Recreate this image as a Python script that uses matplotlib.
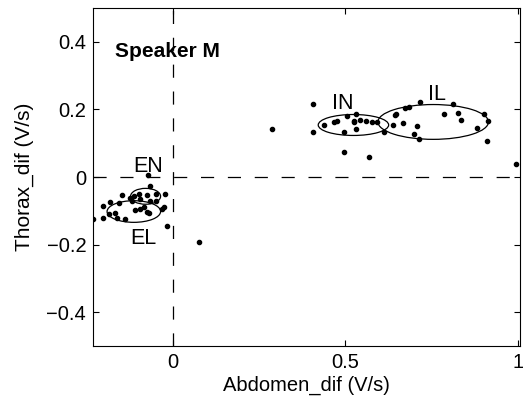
import numpy as np
import matplotlib
matplotlib.use('Agg')
import matplotlib.pyplot as plt
from matplotlib.patches import Ellipse

plt.rcParams['font.family'] = ['Liberation Sans', 'DejaVu Sans']

# expiration points (EN / EL cluster)
exp_x = [-0.229, -0.071, -0.064, -0.023, -0.049, -0.074, -0.098, -0.112, -0.122, -0.146,
         -0.093, -0.064, -0.047, -0.117, -0.156, -0.180, -0.200, -0.166, -0.185, -0.200,
         -0.161, -0.137, -0.108, -0.093, -0.074, -0.069, -0.083, -0.030, -0.025, -0.017, 0.077]
exp_y = [-0.124, 0.006, -0.026, -0.049, -0.051, -0.054, -0.049, -0.056, -0.061, -0.053,
         -0.066, -0.071, -0.071, -0.071, -0.076, -0.073, -0.085, -0.105, -0.110, -0.120,
         -0.120, -0.124, -0.098, -0.095, -0.102, -0.105, -0.090, -0.095, -0.090, -0.144, -0.193]

# inspiration points (IN / IL cluster)
insp_x = [0.288, 0.406, 0.406, 0.440, 0.467, 0.477, 0.505, 0.532, 0.525, 0.525, 0.544, 0.561,
          0.578, 0.593, 0.530, 0.496, 0.496, 0.568, 0.612, 0.639, 0.643, 0.648, 0.672, 0.684,
          0.718, 0.668, 0.708, 0.699, 0.713, 0.787, 0.813, 0.828, 0.835, 0.881, 0.903, 0.913,
          0.912, 0.994, 1.018]
insp_y = [0.141, 0.217, 0.132, 0.153, 0.163, 0.167, 0.181, 0.186, 0.167, 0.162, 0.168, 0.165,
          0.163, 0.162, 0.143, 0.133, 0.074, 0.060, 0.133, 0.155, 0.184, 0.187, 0.204, 0.208,
          0.221, 0.160, 0.150, 0.127, 0.114, 0.186, 0.216, 0.189, 0.170, 0.145, 0.186, 0.167,
          0.108, 0.039, 0.142]

# ellipses: name, center x, center y, width, height, label x, label y
ell_names = ['EN', 'EL', 'IN', 'IL']
ell_cx = [-0.078, -0.112, 0.524, 0.755]
ell_cy = [-0.057, -0.102, 0.154, 0.163]
ell_w = [0.087, 0.155, 0.204, 0.320]
ell_h = [0.047, 0.064, 0.062, 0.103]
lab_x = [-0.070, -0.084, 0.493, 0.765]
lab_y = [0.032, -0.182, 0.219, 0.243]

fig = plt.figure(figsize=(5.23, 4.01), dpi=100)
ax = fig.add_axes([0.178, 0.137, 0.816, 0.843])

dash = (0, (10.5, 11))
ax.axhline(0, color='k', ls=dash, lw=0.9)
ax.axvline(0, color='k', ls=dash, lw=0.9)

ax.plot(exp_x, exp_y, 'k.', markersize=6)
ax.plot(insp_x, insp_y, 'k.', markersize=6)

for i in range(len(ell_names)):
    e = Ellipse((ell_cx[i], ell_cy[i]), ell_w[i], ell_h[i], fill=False, ec='k', lw=0.9)
    ax.add_patch(e)
    ax.text(lab_x[i], lab_y[i], ell_names[i], ha='center', va='center', fontsize=15.5)

ax.text(-0.167, 0.37, 'Speaker M', fontsize=15, fontweight='bold', va='center')

ax.set_xlim(-0.23, 1.006)
ax.set_ylim(-0.5, 0.5)
ax.set_xticks([0, 0.5, 1])
ax.set_xticklabels(['0', '0.5', '1'])
ax.set_yticks([-0.4, -0.2, 0, 0.2, 0.4])
ax.set_yticklabels(['\u22120.4', '\u22120.2', '0', '0.2', '0.4'])
ax.tick_params(direction='in', top=True, right=True, labelsize=14.5, length=4, pad=5)
ax.set_xlabel('Abdomen_dif (V/s)', fontsize=14.5, labelpad=3)
ax.set_ylabel('Thorax_dif (V/s)', fontsize=15, labelpad=9)

fig.savefig('out.png', dpi=100)
